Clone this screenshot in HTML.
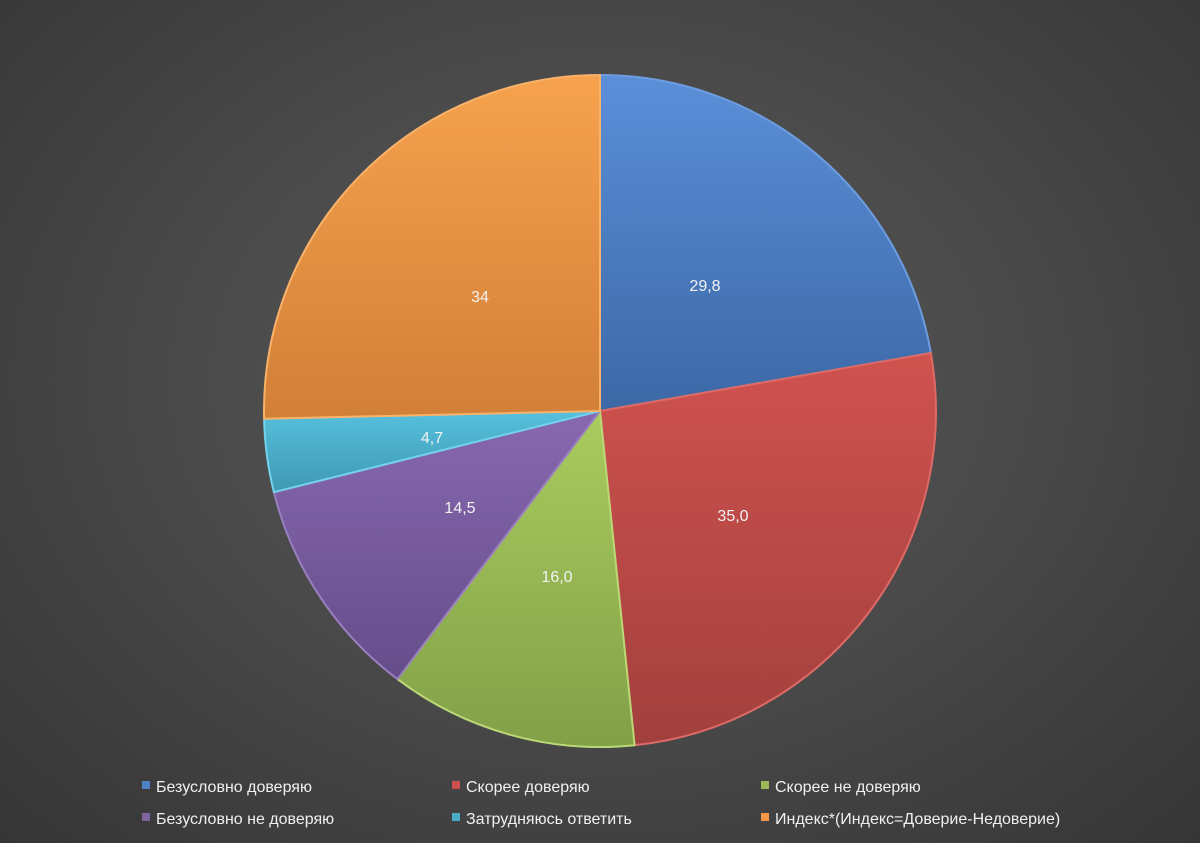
<!DOCTYPE html>
<html><head><meta charset="utf-8"><style>
html,body{margin:0;padding:0;}
body{width:1200px;height:843px;overflow:hidden;background:radial-gradient(ellipse at 50% 45%,#5a5a5a 0%,#4b4b4b 45%,#353535 100%);font-family:"Liberation Sans",sans-serif;}
</style></head><body>
<svg width="1200" height="843" xmlns="http://www.w3.org/2000/svg" style="position:absolute;left:0;top:0">
<defs>
<linearGradient id="gb" x1="0" y1="0" x2="0" y2="1"><stop offset="0" stop-color="#5b8fd9"/><stop offset="1" stop-color="#3c68a6"/></linearGradient>
<linearGradient id="gr" x1="0" y1="0" x2="0" y2="1"><stop offset="0" stop-color="#d0524f"/><stop offset="1" stop-color="#a2403d"/></linearGradient>
<linearGradient id="gg" x1="0" y1="0" x2="0" y2="1"><stop offset="0" stop-color="#a9cc5f"/><stop offset="1" stop-color="#82a048"/></linearGradient>
<linearGradient id="gp" x1="0" y1="0" x2="0" y2="1"><stop offset="0" stop-color="#8868b0"/><stop offset="1" stop-color="#654d8a"/></linearGradient>
<linearGradient id="gc" x1="0" y1="0" x2="0" y2="1"><stop offset="0" stop-color="#56c0dd"/><stop offset="1" stop-color="#3f98b2"/></linearGradient>
<linearGradient id="go" x1="0" y1="0" x2="0" y2="1"><stop offset="0" stop-color="#f6a24e"/><stop offset="1" stop-color="#d27f38"/></linearGradient>
</defs>
<g stroke-width="2" stroke-linejoin="round">
<path d="M600,411 L600,75 A336,336 0 0 1 930.9,353 Z" fill="url(#gb)" stroke="#6d9de0"/>
<path d="M600,411 L930.9,353 A336,336 0 0 1 634.6,745.2 Z" fill="url(#gr)" stroke="#de6a66"/>
<path d="M600,411 L634.6,745.2 A336,336 0 0 1 397.4,679.1 Z" fill="url(#gg)" stroke="#bad875"/>
<path d="M600,411 L397.4,679.1 A336,336 0 0 1 273.9,492.1 Z" fill="url(#gp)" stroke="#9a7fc0"/>
<path d="M600,411 L273.9,492.1 A336,336 0 0 1 264.1,418.8 Z" fill="url(#gc)" stroke="#72d2ec"/>
<path d="M600,411 L264.1,418.8 A336,336 0 0 1 600,75 Z" fill="url(#go)" stroke="#f8b26a"/>
</g>
<g fill="#f2f2f2" font-size="16" text-anchor="middle" font-family="Liberation Sans, sans-serif">
<text x="705" y="291">29,8</text>
<text x="733" y="521">35,0</text>
<text x="557" y="582">16,0</text>
<text x="460" y="513">14,5</text>
<text x="432" y="443">4,7</text>
<text x="480" y="302">34</text>
</g>
<g font-size="16" fill="#f0f0f0" font-family="Liberation Sans, sans-serif">
<rect x="142" y="781" width="8" height="8" fill="#4f81c9"/><text x="156" y="792">Безусловно доверяю</text>
<rect x="452" y="781" width="8" height="8" fill="#c9504d"/><text x="466" y="792">Скорее доверяю</text>
<rect x="761" y="781" width="8" height="8" fill="#9bbb59"/><text x="775" y="792">Скорее не доверяю</text>
<rect x="142" y="813" width="8" height="8" fill="#8064a2"/><text x="156" y="824">Безусловно не доверяю</text>
<rect x="452" y="813" width="8" height="8" fill="#4bacc6"/><text x="466" y="824">Затрудняюсь ответить</text>
<rect x="761" y="813" width="8" height="8" fill="#f79646"/><text x="775" y="824">Индекс*(Индекс=Доверие-Недоверие)</text>
</g>
</svg>
</body></html>
